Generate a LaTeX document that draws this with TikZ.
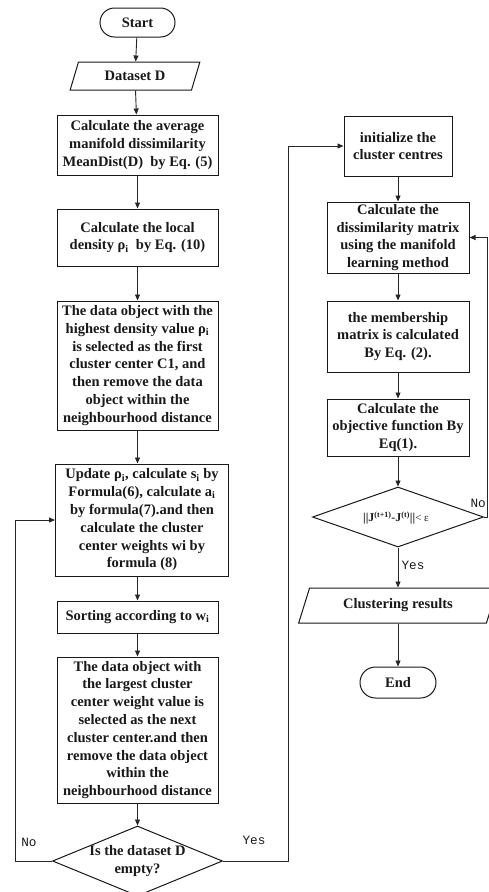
\documentclass[tikz,border=0pt]{standalone}
\usepackage{fontspec}
\setmainfont{Liberation Serif}
\newfontfamily\lblfont{Liberation Mono}
\usetikzlibrary{shapes.geometric,shapes.misc,arrows.meta}
\begin{document}
\begin{tikzpicture}[x=1pt,y=-1pt,
  every node/.style={font=\bfseries\fontsize{14.5}{17.8}\selectfont, align=center, inner sep=0pt, text=black!90},
  box/.style={draw=black!90, line width=1pt, rectangle},
  term/.style={draw=black!90, rounded rectangle, line width=1pt},
  io/.style={draw=black!90, trapezium, trapezium left angle=65, trapezium right angle=115, trapezium stretches=true, line width=1pt},
  dec/.style={draw=black!90, diamond, line width=1pt},
  arr/.style={draw=black!85, line width=0.9pt, -{Triangle[length=6pt,width=5pt]}},
  lbl/.style={font=\lblfont\fontsize{12.7}{14}\selectfont}
]
\useasboundingbox (0,0) rectangle (489,892);
\clip (0,0) rectangle (489,892);
% left column
\node[term, minimum width=75, minimum height=29] (start) at (137.5,22.5) {Start};
\node[io, minimum width=130, minimum height=28] (ds) at (135,76) {Dataset D};
\node[box, minimum width=161, minimum height=60] (b1) at (137.5,145) {Calculate the average\\manifold dissimilarity\\MeanDist(D)\ \ by Eq. (5)};
\node[box, minimum width=161, minimum height=57] (b2) at (137.5,237.5) {Calculate the local\\density ρ\textsubscript{i}\ \ by Eq. (10)};
\node[box, minimum width=161, minimum height=129] (b3) at (137.5,365.5) {The data object with the\\highest density value ρ\textsubscript{i}\\is selected as the first\\cluster center C1, and\\then remove the data\\object within the\\neighbourhood distance};
\node[box, minimum width=173, minimum height=112] (b4) at (142,520) {Update ρ\textsubscript{i}, calculate s\textsubscript{i} by\\Formula(6), calculate a\textsubscript{i}\\by formula(7).and then\\calculate the cluster\\center weights wi by\\formula (8)};
\node[box, minimum width=161, minimum height=32] (b5) at (137.5,617) {Sorting according to w\textsubscript{i}};
\node[box, minimum width=161, minimum height=146] (b6) at (137.5,730) {The data object with\\the largest cluster\\center weight value is\\selected as the next\\cluster center.and then\\remove the data object\\within the\\neighbourhood distance};
\node[dec, minimum width=170, minimum height=70] (d1) at (137.5,861) {};
\node (d1t) at (137.5,861) {Is the dataset D\\empty?};
% right column
\node[box, minimum width=108, minimum height=60] (init) at (398,146) {initialize the\\cluster centres};
\node[box, minimum width=142, minimum height=71] (mat) at (398,237.5) {Calculate the\\dissimilarity matrix\\using the manifold\\learning method};
\node[box, minimum width=142, minimum height=71] (mem) at (398,336.5) {the membership\\matrix is calculated\\By Eq. (2).};
\node[box, minimum width=142, minimum height=57] (obj) at (398,427.5) {Calculate the\\objective function By\\Eq(1).};
\node[dec, minimum width=171, minimum height=60] (d2) at (398,517) {};
\node[font=\bfseries\fontsize{12}{14}\selectfont] (d2t) at (396,518) {||J\textsuperscript{(t+1)}-J\textsuperscript{(t)}||{\mdseries\fontsize{11}{12}\selectfont< ε}};
\node[io, trapezium left angle=63, trapezium right angle=117, minimum width=199, minimum height=35] (res) at (398,605.5) {Clustering results};
\node[term, minimum width=76, minimum height=31] (end) at (398,682.5) {End};
% connectors
\draw[arr] (start) -- (ds);
\draw[arr] (ds) -- (b1);
\draw[arr] (b1) -- (b2);
\draw[arr] (b2) -- (b3);
\draw[arr] (b3.south) -- (b3.south |- b4.north);
\draw[arr] (b5.north |- b4.south) -- (b5.north);
\draw[arr] (b5) -- (b6);
\draw[arr] (b6.south) -- (d1.north);
\coordinate (lx) at (15,861);
\draw[arr] (d1.west) -- (lx) |- (b4.west);
\coordinate (rx) at (288,0);
\draw[arr] (d1.east) -| (rx |- init.west) -- (init.west);
\draw[arr] (init) -- (mat);
\draw[arr] (mat) -- (mem);
\draw[arr] (mem) -- (obj);
\draw[arr] (obj.south) -- (d2.north);
\draw[arr] (d2.south) -- (res);
\draw[arr] (res) -- (end);
\coordinate (fx) at (487,0);
\draw[arr] (d2.east) -| (fx |- mat.east) -- (mat.east);
% labels
\node[lbl] (no1) at (29,842) {No};
\node[lbl] (yes1) at (254,840) {Yes};
\node[lbl] (yes2) at (413,565) {Yes};
\node[lbl, anchor=east] (no2) at (486,503) {No};
\end{tikzpicture}
\end{document}
